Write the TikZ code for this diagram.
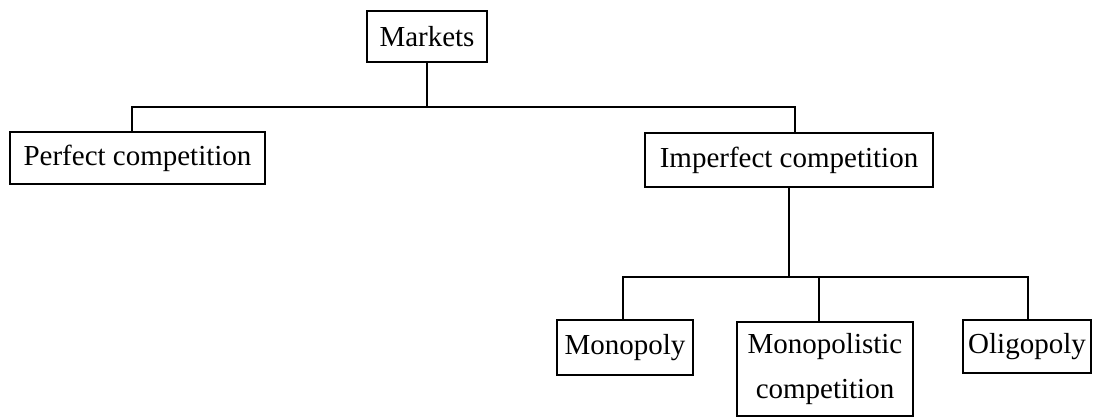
\documentclass[tikz,border=0pt]{standalone}
\usepackage{fontspec}
\setmainfont{Liberation Serif}
\usetikzlibrary{positioning}
\begin{document}
\begin{tikzpicture}[x=0.02cm, y=-0.02cm,
    market/.style={draw, line width=1.2pt, inner sep=0pt, align=center, font=\fontsize{16.5}{26}\selectfont},
    link/.style={line width=1.2pt},
]
    \useasboundingbox (0,0) rectangle (1094,417);

    % Boxes
    \node[market, minimum width=2.4cm, minimum height=1.02cm] (markets) at (427,36.5) {Markets};
    \node[market, minimum width=5.1cm, minimum height=1.04cm] (perfect) at (137.5,158) {Perfect competition};
    \node[market, minimum width=5.76cm, minimum height=1.08cm] (imperfect) at (789,160) {Imperfect competition};
    \node[market, minimum width=2.72cm, minimum height=1.1cm] (monopoly) at (625,347.5) {Monopoly};
    \node[market, minimum width=3.52cm, minimum height=1.88cm] (monopolistic) at (825,369) {Monopolistic\\competition};
    \node[market, minimum width=2.56cm, minimum height=1.06cm] (oligopoly) at (1027,346.5) {Oligopoly};

    % Branch points
    \coordinate (topleft) at (132,107);
    \coordinate (topright) at (795,107);
    \coordinate (lowleft) at (623,277);
    \coordinate (lowmid) at (819,277);
    \coordinate (lowright) at (1028,277);

    % Connections
    \draw[link] (markets.south) -- (markets.south |- topleft);
    \draw[link] (topleft |- perfect.north) -- (topleft) -- (topright) -- (topright |- imperfect.north);
    \draw[link] (imperfect.south) -- (imperfect.south |- lowleft);
    \draw[link] (lowleft |- monopoly.north) -- (lowleft) -- (lowright) -- (lowright |- oligopoly.north);
    \draw[link] (lowmid) -- (lowmid |- monopolistic.north);

\end{tikzpicture}
\end{document}
